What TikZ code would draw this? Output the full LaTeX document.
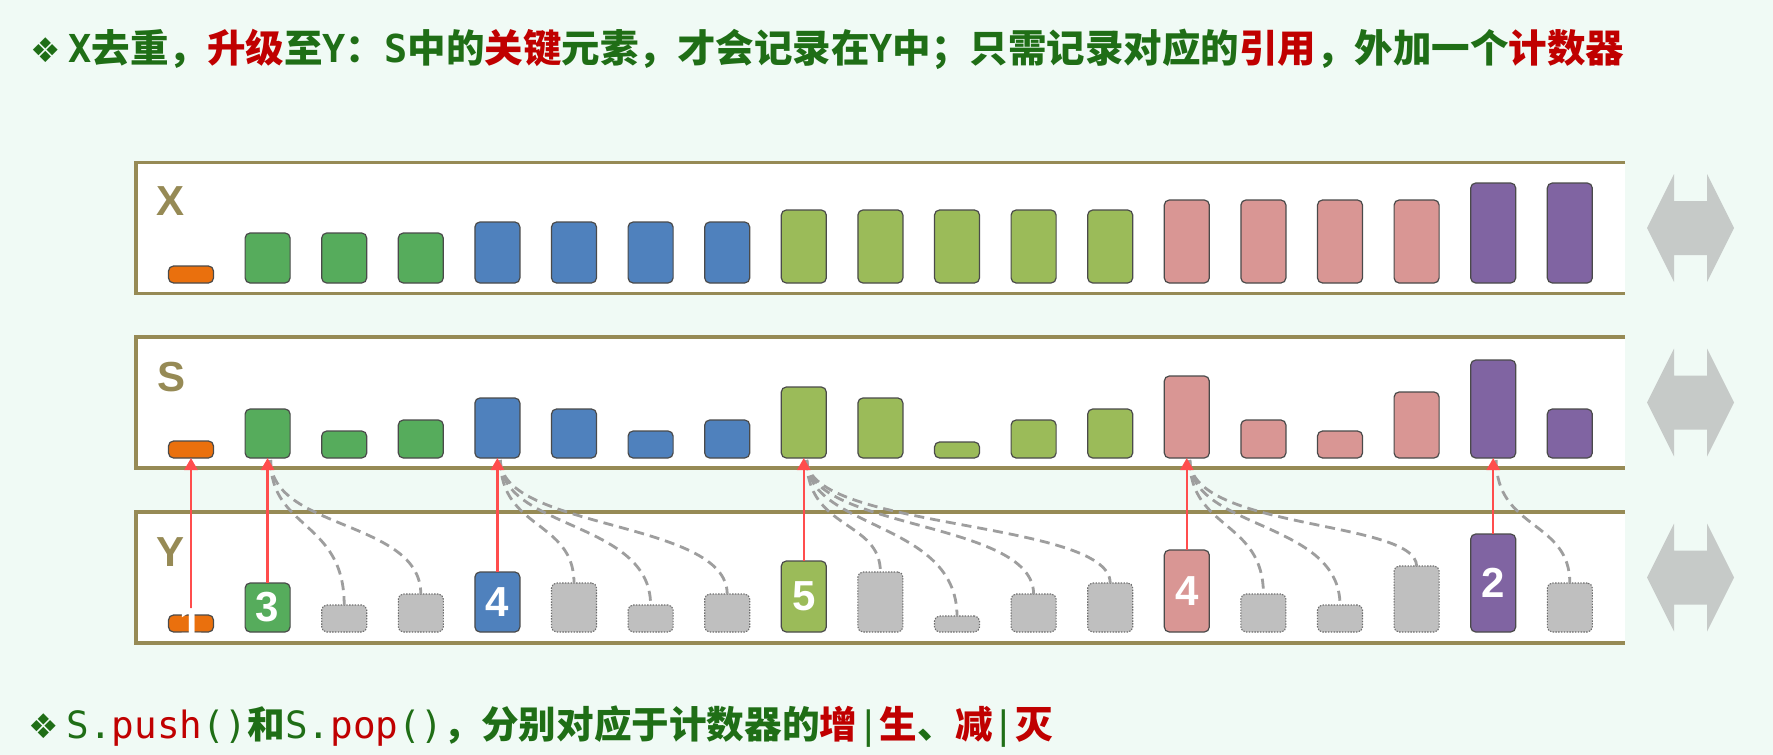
\documentclass[tikz,border=0pt]{standalone}
\usepackage{fontspec}
\setmainfont{Liberation Sans}
\newfontfamily\cjk{Noto Sans CJK SC}
\newfontfamily\codefont{DejaVu Sans Mono}
\newfontfamily\dingfont{DejaVu Sans}
\usepackage{tikz}
\usepackage{xcolor}
\usetikzlibrary{arrows.meta,calc}
\definecolor{Mint}{HTML}{F0FAF5}
\definecolor{Moss}{HTML}{968A55}
\definecolor{Pumpkin}{HTML}{EA700D}
\definecolor{Fern}{HTML}{56AC5C}
\definecolor{Steel}{HTML}{4F81BD}
\definecolor{Sprout}{HTML}{9BBB59}
\definecolor{Blush}{HTML}{D99694}
\definecolor{Plum}{HTML}{8064A2}
\definecolor{Ash}{HTML}{BFBFBF}
\definecolor{AshEdge}{HTML}{6E6E6E}
\definecolor{BarEdge}{HTML}{4A4A4A}
\definecolor{Coral}{HTML}{FF4D4D}
\definecolor{Pebble}{HTML}{9E9E9E}
\definecolor{Fog}{HTML}{C6CAC8}
\definecolor{Forest}{HTML}{1F6E16}
\definecolor{Crimson}{HTML}{C00000}
\newcommand{\hl}[1]{\textcolor{Crimson}{#1}}
\newcommand{\ding}{{\dingfont\fontsize{17pt}{17pt}\selectfont ❖}\hspace{4pt}}
\tikzset{
    every node/.style={inner sep=0pt, outer sep=0pt},
    panel/.style={fill=white, minimum width=744.5pt, minimum height=65.5pt},
    panelline/.style={draw=Moss, line width=1.65pt},
    panellabel/.style={text=Moss, font=\fontsize{21pt}{21pt}\selectfont\bfseries},
    bar/.style={
        draw=BarEdge, fill=#1, line width=0.6pt,
        rounded corners=2.5pt, minimum width=22.5pt, anchor=south
    },
    ghost/.style={bar=Ash, draw=AshEdge, dash pattern=on 0.7pt off 0.7pt, line width=0.55pt},
    countlabel/.style={text=white, font=\fontsize{21pt}{21pt}\selectfont\bfseries},
    keyarrow/.style={-{Triangle[length=6pt,width=6.5pt]}, draw=Coral, line width=1.25pt},
    linkline/.style={draw=Pebble, line width=1.4pt, dash pattern=on 5pt off 3pt},
    swaparrow/.style={fill=Fog},
    headline/.style={anchor=west, text=Forest, font=\fontsize{#1}{23pt}\selectfont\cjk\bfseries},
}

\begin{document}
\begin{tikzpicture}[x=0.5pt, y=-0.5pt]
    \fill[Mint] (0,0) rectangle (1773,755);
    \useasboundingbox (0,0) rectangle (1773,755);

    % Headlines
    \node[headline=19.25pt] (title) at (30,49) {\ding{\codefont\bfseries X}去重，\hl{升级}至{\codefont\bfseries Y}：{\codefont\bfseries S}中的\hl{关键}元素，才会记录在{\codefont\bfseries Y}中；只需记录对应的\hl{引用}，外加一个\hl{计数器}};
    \node[headline=18.8pt] (note) at (28,727) {\ding{\codefont\mdseries S.\hl{push}()}和{\codefont\mdseries S.\hl{pop}()}，分别对应于计数器的\hl{增}{\codefont\mdseries |}\hl{生}、\hl{减}{\codefont\mdseries |}\hl{灭}};

    % Panels
    \node[panel] (px) at (880.5,228) {};
    \node[panel] (ps) at (880.5,402.5) {};
    \node[panel] (py) at (880.5,577.5) {};
    \foreach \p in {px,ps,py}
        \draw[panelline] (\p.north east) -- (\p.north west) -- (\p.south west) -- (\p.south east);
    \node[panellabel] (lx) at (171,201) {X};
    \node[panellabel] (ls) at (172,377) {S};
    \node[panellabel] (ly) at (171,552) {Y};

    % Bars
    \foreach \i/\col/\hx/\hs/\n in {
        0/Pumpkin/17/17/1, 1/Fern/50/49/3, 2/Fern/50/27/0, 3/Fern/50/38/0,
        4/Steel/61/60/4, 5/Steel/61/49/0, 6/Steel/61/27/0, 7/Steel/61/38/0,
        8/Sprout/73/71/5, 9/Sprout/73/60/0, 10/Sprout/73/16/0, 11/Sprout/73/38/0, 12/Sprout/73/49/0,
        13/Blush/83/82/4, 14/Blush/83/38/0, 15/Blush/83/27/0, 16/Blush/83/66/0,
        17/Plum/100/98/2, 18/Plum/100/49/0} {
        \pgfmathsetmacro\cx{191+76.6*\i}
        \node[bar=\col, minimum height=\hx*0.5pt] (x\i) at (\cx,283) {};
        \node[bar=\col, minimum height=\hs*0.5pt] (s\i) at (\cx,458) {};
        \ifnum\n=0
            \node[ghost, minimum height=\hs*0.5pt] (y\i) at (\cx,632) {};
        \else
            \node[bar=\col, minimum height=\hs*0.5pt] (y\i) at (\cx,632) {};
        \fi
    }

    % References
    \coordinate (lvl) at (0,520);
    \foreach \k/\t in {1/2, 1/3, 4/5, 4/6, 4/7, 8/9, 8/10, 8/11, 8/12, 13/14, 13/15, 13/16, 17/18}
        \draw[linkline] ($(s\k.south)+(3,2)$) .. controls +(0,70) and (y\t.north |- lvl) .. (y\t.north);
    \foreach \k in {0,1,4,8,13,17}
        \draw[keyarrow] (y\k.north) -- (s\k.south);

    % Counters
    \foreach \k/\n in {0/1, 1/3, 4/4, 8/5, 13/4, 17/2}
        \node[countlabel] (c\k) at (y\k.center) {\n};

    % Side arrows
    \coordinate (ax) at (1690.5,228);
    \coordinate (as) at (1690.5,402.5);
    \coordinate (ay) at (1690.5,577.5);
    \foreach \a in {ax,as,ay}
        \fill[swaparrow, shift={(\a)}] (-43.5,0) -- (-16.5,-54) -- (-16.5,-27) -- (16.5,-27) -- (16.5,-54) -- (43.5,0)
            -- (16.5,54) -- (16.5,27) -- (-16.5,27) -- (-16.5,54) -- cycle;
\end{tikzpicture}
\end{document}
